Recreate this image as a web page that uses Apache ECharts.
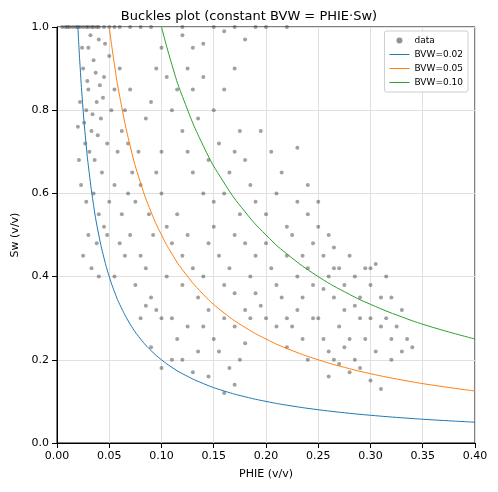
<!DOCTYPE html>
<html><head><meta charset="utf-8">
<script src="https://cdn.jsdelivr.net/npm/echarts@6/dist/echarts.min.js"></script>
<style>html,body{margin:0;padding:0;background:#fff}#c{width:498px;height:492px}</style>
</head><body><div id="c"></div>
<script>
const title = "Buckles plot (constant BVW = PHIE\u00b7Sw)";
const bvwValues = [0.02, 0.05, 0.10];
const lineColors = ["#1f77b4", "#ff7f0e", "#2ca02c"];
const phieGrid = [0.01,0.012,0.014,0.016,0.018,0.02,0.022,0.025,0.028,0.03,0.035,0.04,0.045,0.05,0.055,0.06,0.07,0.08,0.09,0.1,0.11,0.12,0.14,0.16,0.18,0.2,0.22,0.25,0.28,0.3,0.33,0.36,0.4];
const dataTop = [[.005,1],[.008,1],[.01,1],[.012,1],[.015,1],[.018,1],[.02,1],[.022,1],[.025,1],[.028,1],[.03,1],[.033,1],[.035,1],[.038,1],[.04,1],[.045,1],[.05,1],[.055,1],[.06,1],[.07,1],[.08,1],[.09,1],[.12,1],[.15,1],[.17,1],[.19,1],[.2,1],[.22,1]];
const dataLow = [[.03,.95],[.035,.92],[.04,.97],[.025,.9],[.045,.88],[.05,.93],[.03,.85],[.038,.82],[.042,.78],[.028,.8],[.033,.75],[.048,.72],[.055,.85],[.06,.9],[.052,.8],[.036,.68],[.027,.72],[.022,.82],[.024,.95],[.032,.98],[.046,.96],[.041,.86],[.037,.89],[.029,.87],[.034,.79],[.044,.83],[.026,.77],[.031,.7],[.039,.74],[.043,.65],[.02,.76],[.021,.68],[.023,.62],[.028,.58],[.035,.6],[.04,.55],[.03,.5],[.025,.45],[.033,.42],[.038,.48],[.04,.4],[.045,.52],[.05,.58],[.055,.62],[.058,.7],[.062,.75],[.065,.8],[.07,.85],[.068,.72],[.072,.65],[.075,.58],[.08,.62],[.078,.7],[.085,.78],[.09,.82],[.095,.9],[.1,.95],[.105,.88],[.11,.8],[.088,.55],[.092,.5],[.06,.48],[.065,.45],[.07,.5],[.08,.45],[.085,.42],[.09,.35],[.095,.32],[.1,.3],[.075,.38],[.055,.4],[.048,.5],[.062,.55],[.068,.6]];
const dataMid = [[.1,.6],[.105,.52],[.11,.48],[.115,.55],[.12,.45],[.125,.5],[.13,.42],[.12,.38],[.11,.3],[.115,.25],[.12,.2],[.13,.17],[.14,.28],[.135,.35],[.14,.4],[.145,.48],[.15,.52],[.155,.45],[.16,.38],[.165,.42],[.17,.5],[.175,.55],[.18,.48],[.185,.4],[.19,.45],[.15,.58],[.16,.6],[.165,.65],[.17,.7],[.175,.75],[.18,.68],[.185,.62],[.19,.58],[.2,.55],[.21,.6],[.22,.52],[.23,.58],[.24,.62],[.2,.48],[.205,.42],[.21,.38],[.215,.35],[.22,.3],[.225,.28],[.2,.3],[.195,.33],[.19,.36],[.18,.32],[.17,.36],[.16,.3],[.155,.22],[.165,.18],[.17,.14],[.175,.2],[.15,.25],[.145,.32],[.14,.6],[.13,.65],[.125,.7],[.12,.75],[.115,.85],[.125,.9],[.13,.95],[.14,.88],[.15,.8],[.16,.85],[.155,.72],[.145,.68],[.135,.78],[.1,.7],[.095,.65],[.105,.4],[.11,.2],[.1,.18],[.09,.23],[.085,.33],[.08,.3],[.125,.28],[.135,.22],[.145,.16],[.16,.12],[.17,.28],[.18,.24],[.185,.3],[.12,.98],[.14,.96],[.16,.99],[.18,.97],[.13,.85],[.17,.9]];
const dataHigh = [[.22,.45],[.23,.4],[.235,.35],[.24,.42],[.245,.48],[.25,.52],[.255,.45],[.26,.4],[.265,.35],[.27,.42],[.275,.38],[.28,.45],[.285,.4],[.29,.35],[.295,.42],[.3,.38],[.305,.43],[.31,.35],[.25,.3],[.255,.25],[.26,.22],[.265,.2],[.27,.28],[.275,.32],[.28,.25],[.285,.2],[.29,.18],[.295,.25],[.3,.3],[.305,.22],[.31,.28],[.315,.3],[.32,.25],[.325,.28],[.33,.22],[.335,.25],[.34,.23],[.33,.32],[.32,.35],[.31,.13],[.3,.15],[.28,.17],[.27,.19],[.26,.16],[.24,.2],[.235,.25],[.23,.32],[.225,.5],[.24,.55],[.25,.58],[.26,.5],[.265,.47],[.215,.65],[.205,.7],[.23,.71],[.195,.75],[.21,.28],[.22,.23],[.245,.3],[.29,.3],[.275,.23],[.285,.33],[.3,.42],[.315,.4],[.32,.2],[.265,.42],[.255,.37],[.235,.45],[.245,.38]];

const pts = dataTop.concat(dataLow, dataMid, dataHigh);
const series = [{name:'data',type:'scatter',data:pts,symbolSize:4,color:'rgba(40,40,40,0.55)',itemStyle:{color:'rgba(40,40,40,0.55)'},z:3}];
bvwValues.forEach((b,i)=>{
  series.push({name:'BVW='+b.toFixed(2),type:'line',showSymbol:false,smooth:true,color:lineColors[i],
    data:phieGrid.filter(p=>b/p<=1.0001).concat([b]).sort((a,c)=>a-c).map(p=>[p,b/p]),
    lineStyle:{color:lineColors[i],width:1},itemStyle:{color:lineColors[i]},z:4});
});
const lineIcon = 'path://M0,4L20,4L20,5L0,5Z';
const ch = echarts.init(document.getElementById('c'));
ch.setOption({
  animation:false,
  color:['#555'].concat(lineColors),
  textStyle:{fontFamily:'DejaVu Sans'},
  title:{text:title,left:'center',top:5,textStyle:{fontSize:13,fontWeight:'normal',color:'#000',fontFamily:'DejaVu Sans'}},
  grid:{left:57,right:23,top:27,bottom:49,show:true,borderColor:'#000',borderWidth:1},
  legend:{right:30,top:31,orient:'vertical',itemWidth:20,itemHeight:6,itemGap:5,padding:5,
    borderColor:'#ccc',borderWidth:1,borderRadius:2,backgroundColor:'#fff',
    textStyle:{fontSize:9,color:'#000'},
    data:[{name:'data',icon:'circle',itemStyle:{color:'#777'}},
          {name:'BVW=0.02',icon:lineIcon,itemStyle:{color:lineColors[0]}},
          {name:'BVW=0.05',icon:lineIcon,itemStyle:{color:lineColors[1]}},
          {name:'BVW=0.10',icon:lineIcon,itemStyle:{color:lineColors[2]}}]},
  xAxis:{type:'value',min:0,max:0.4,interval:0.05,name:'PHIE (v/v)',nameLocation:'middle',nameGap:26,
    nameTextStyle:{fontSize:11,color:'#000'},
    axisLine:{lineStyle:{color:'#000'}},axisTick:{lineStyle:{color:'#000'}},
    axisLabel:{color:'#000',fontSize:11,formatter:v=>v.toFixed(2)},
    splitLine:{lineStyle:{color:'#e0e0e0'}}},
  yAxis:{type:'value',min:0,max:1,interval:0.2,name:'Sw (v/v)',nameLocation:'middle',nameGap:36,
    nameTextStyle:{fontSize:11,color:'#000'},
    axisLine:{show:true,lineStyle:{color:'#000'}},axisTick:{show:true,lineStyle:{color:'#000'}},
    axisLabel:{color:'#000',fontSize:11,formatter:v=>v.toFixed(1)},
    splitLine:{lineStyle:{color:'#e0e0e0'}}},
  series:series
});
</script></body></html>
